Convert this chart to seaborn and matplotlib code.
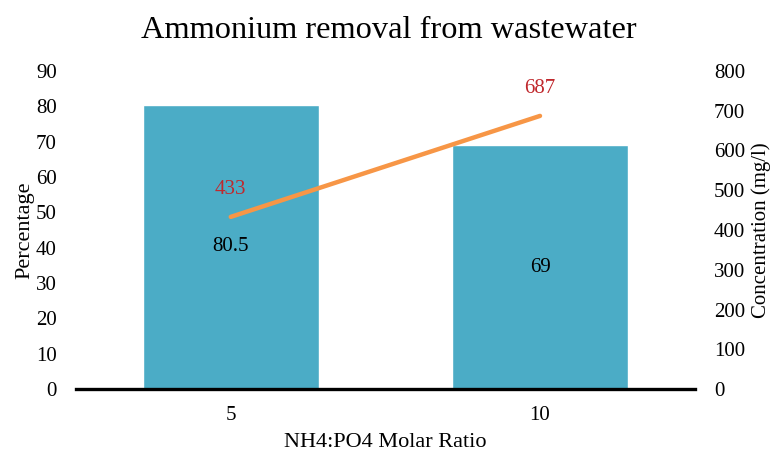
import matplotlib.pyplot as plt
import seaborn as sns
import pandas as pd

ratios = ["5", "10"]
removal_pct = [80.5, 69]
concentration = [433, 687]

sns.set_theme(style="white")
plt.rcParams['font.family'] = ['Liberation Serif', 'DejaVu Serif']
plt.rcParams['text.color'] = 'black'
plt.rcParams['axes.labelcolor'] = 'black'

df = pd.DataFrame({"ratio": ratios, "pct": removal_pct, "conc": concentration})

fig = plt.figure(figsize=(7.77, 4.55), dpi=100)
ax = fig.add_axes([0.098, 0.145, 0.796, 0.699])

sns.barplot(data=df, x="ratio", y="pct", color="#4BACC6", saturation=1,
            width=0.57, ax=ax)
ax.set_ylim(0, 90)
ax.set_yticks(range(0, 91, 10))
ax.set_xlim(-0.5, 1.5)
for i, v in enumerate(removal_pct):
    ax.text(i, v / 2, f"{v:g}", ha="center", va="center", fontsize=15, color="black")

ax2 = ax.twinx()
sns.lineplot(x=range(len(ratios)), y=concentration, color="#F79646", linewidth=3.2,
             solid_capstyle="round", ax=ax2)
ax2.set_ylim(0, 800)
ax2.set_yticks(range(0, 801, 100))
for i, v in enumerate(concentration):
    ax2.annotate(f"{v}", (i, v), xytext=(0, 19.5), textcoords="offset points",
                 ha="center", va="center", fontsize=15, color="#C0282D")

for a in (ax, ax2):
    for s in a.spines.values():
        s.set_visible(False)
    a.tick_params(length=0, labelsize=15, colors="black")
    a.grid(False)
ax.spines["bottom"].set_visible(True)
ax.spines["bottom"].set_color("black")
ax.spines["bottom"].set_linewidth(2.4)
ax.tick_params(axis="x", pad=12)
ax.tick_params(axis="y", pad=14)
ax2.tick_params(axis="y", pad=14)

ax.set_xlabel("NH4:PO4 Molar Ratio", fontsize=16, labelpad=6)
ax.set_ylabel("Percentage", fontsize=16, labelpad=1)
ax2.set_ylabel("Concentration (mg/l)", fontsize=15, labelpad=4)
fig.suptitle("Ammonium removal from wastewater", fontsize=23.3, y=0.965)

plt.savefig("out.png", dpi=100)
